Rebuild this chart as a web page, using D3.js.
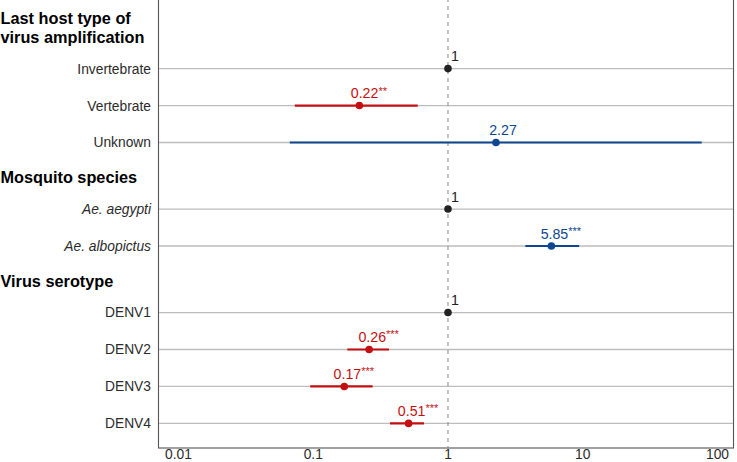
<!DOCTYPE html>
<html><head><meta charset="utf-8">
<script src="https://cdn.jsdelivr.net/npm/d3@7"></script>
<style>body{margin:0;background:#fff}svg{display:block}text{font-family:"Liberation Sans",Arial,Helvetica,sans-serif}</style>
</head><body>
<script>
// ---- data ----
const sectionTitles = [["Last host type of", "virus amplification"], ["Mosquito species"], ["Virus serotype"]];
const categories = ["Invertebrate", "Vertebrate", "Unknown", "Ae. aegypti", "Ae. albopictus", "DENV1", "DENV2", "DENV3", "DENV4"];
const sectionOf = [0, 0, 0, 1, 1, 2, 2, 2, 2];
const italicCats = ["Ae. aegypti", "Ae. albopictus"];
const estimate = [1, 0.22, 2.27, 1, 5.85, 1, 0.26, 0.17, 0.51];
const lower = [null, 0.073, 0.067, null, 3.75, null, 0.179, 0.095, 0.371];
const upper = [null, 0.596, 76.3, null, 9.4, null, 0.365, 0.276, 0.664];
const valueLabels = ["1", "0.22", "2.27", "1", "5.85", "1", "0.26", "0.17", "0.51"];
const stars = ["", "**", "", "", "***", "", "***", "***", "***"];
const xTicks = [0.01, 0.1, 1, 10, 100];
const xTickLabels = ["0.01", "0.1", "1", "10", "100"];

// ---- layout ----
const W = 737, H = 462;
const panel = {left: 158, right: 734, top: -2, bottom: 448};
const RED = "#C40F12", BLUE = "#0E4690", BLACK = "#222222";

const svg = d3.select("body").append("svg").attr("width", W).attr("height", H);

const x = d3.scaleLog().domain([0.00705, 132.5]).range([panel.left, panel.right]);
const slot = categories.map((c, i) => i + sectionOf[i] * 0.8);
const y = d3.scaleLinear().domain([0, d3.max(slot)]).range([68.6, 423.4]);

const rows = categories.map((c, i) => ({
  cat: c, sec: sectionOf[i], est: estimate[i], lo: lower[i], hi: upper[i],
  lab: valueLabels[i], star: stars[i], y: y(slot[i]),
  color: estimate[i] === 1 ? BLACK : (estimate[i] < 1 ? RED : BLUE)
}));

// panel border
svg.append("rect").attr("x", panel.left + 0.5).attr("y", panel.top)
  .attr("width", panel.right - panel.left - 1).attr("height", panel.bottom - panel.top)
  .attr("fill", "none").attr("stroke", "#555").attr("stroke-width", 1.1);

// gridlines
svg.append("g").selectAll("line").data(rows).join("line")
  .attr("x1", panel.left + 1).attr("x2", panel.right - 1)
  .attr("y1", d => d.y).attr("y2", d => d.y)
  .attr("stroke", "#BDBDBD").attr("stroke-width", 1.3);

// reference line at 1
svg.append("line").attr("x1", x(1)).attr("x2", x(1)).attr("y1", panel.top).attr("y2", panel.bottom)
  .attr("stroke", "#888").attr("stroke-width", 1).attr("stroke-dasharray", "4,4");

// category labels
svg.append("g").selectAll("text").data(rows).join("text")
  .attr("x", 151).attr("y", d => d.y).attr("dy", "0.36em")
  .attr("text-anchor", "end").attr("font-size", 13.8).attr("fill", "#2b2b2b")
  .attr("font-style", d => italicCats.includes(d.cat) ? "italic" : "normal")
  .text(d => d.cat);

// section headers
sectionTitles.forEach((lines, s) => {
  const first = rows.find(r => r.sec === s);
  const base = first.y - 26;
  lines.forEach((ln, j) => {
    svg.append("text").attr("x", 0.5).attr("y", base - (lines.length - 1 - j) * 18.5)
      .attr("font-size", 16.3).attr("font-weight", "bold").attr("fill", "#000").text(ln);
  });
});

// CI lines
svg.append("g").selectAll("line").data(rows.filter(d => d.lo != null)).join("line")
  .attr("x1", d => x(d.lo)).attr("x2", d => x(d.hi))
  .attr("y1", d => d.y).attr("y2", d => d.y)
  .attr("stroke", d => d.color).attr("stroke-width", 2.2);

// points
svg.append("g").selectAll("circle").data(rows).join("circle")
  .attr("cx", d => x(d.est)).attr("cy", d => d.y).attr("r", 3.8)
  .attr("fill", d => d.color);

// value labels
const vl = svg.append("g").selectAll("text").data(rows).join("text")
  .attr("x", d => x(d.est) + (d.star ? 9.5 : 7)).attr("y", d => d.y - 7.5)
  .attr("text-anchor", "middle").attr("font-size", 14.2).attr("fill", d => d.color);
vl.append("tspan").text(d => d.lab);
vl.filter(d => d.star).append("tspan").attr("font-size", 11).attr("dy", -3.5).text(d => d.star);

// x axis labels
svg.append("g").selectAll("text").data(xTicks).join("text")
  .attr("x", d => x(d)).attr("y", 458.5)
  .attr("text-anchor", "middle").attr("font-size", 13.8).attr("fill", "#2b2b2b")
  .text((d, i) => xTickLabels[i]);
</script>
</body></html>
